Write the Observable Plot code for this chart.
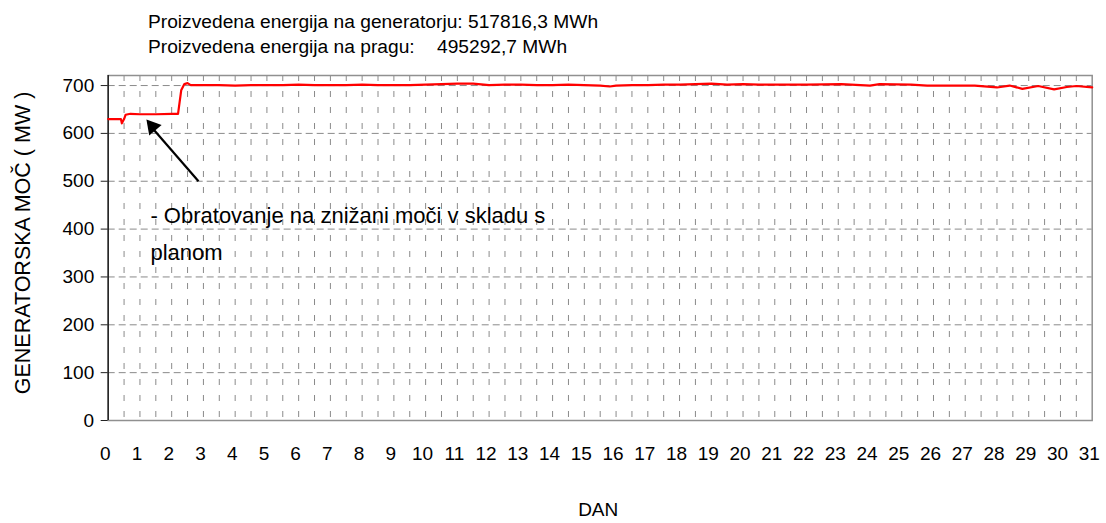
<!DOCTYPE html>
<html>
<head>
<meta charset="utf-8">
<script src="https://cdn.jsdelivr.net/npm/d3@7"></script>
<script src="https://cdn.jsdelivr.net/npm/@observablehq/plot@0.6"></script>
<style>
  html, body { margin: 0; padding: 0; background: #fff; }
  #wrap { position: relative; width: 1106px; height: 523px; font-family: "Liberation Sans", Arial, sans-serif; }
  #chart { position: absolute; left: 0; top: 0; }
  .hdr { position: absolute; font-size: 19.2px; line-height: 23px; white-space: pre; color: #000; }
</style>
</head>
<body>
<div id="wrap">
  <div id="chart"></div>
  <div class="hdr" id="h1" style="left:148px; top:9.5px;"></div>
  <div class="hdr" id="h2a" style="left:148px; top:35px;"></div>
  <div class="hdr" id="h2b" style="left:437px; top:35px;"></div>
</div>
<script>
// ---- data ----
const headerLabels = ["Proizvedena energija na generatorju: 517816,3 MWh", "Proizvedena energija na pragu:", "495292,7 MWh"];
const days  = [0, 0.4, 0.43, 0.5, 0.55, 0.7, 1.0, 1.5, 2.0, 2.2, 2.3, 2.4, 2.5, 2.6, 3, 3.5, 4, 4.5, 5, 5.5, 6, 6.5, 7, 7.5, 8, 8.5, 9, 9.5, 10, 10.5, 11, 11.5, 12, 12.5, 13, 13.5, 14, 14.5, 15, 15.5, 15.8, 16, 16.5, 17, 17.5, 18, 18.5, 19, 19.5, 20, 20.5, 21, 21.5, 22, 23.1, 24.0, 24.3, 25.3, 25.8, 26.8, 27.3, 28.0, 28.4, 28.8, 29.3, 29.8, 30.2, 30.5, 31];
const power = [630, 630, 621, 630, 639, 641, 640, 640, 641, 641, 690, 703, 705, 701, 701, 701, 700, 701, 701, 701, 702, 701, 701, 701, 702, 701, 701, 701, 702, 703, 704, 704, 701, 702, 702, 701, 701, 702, 701, 700, 698, 700, 701, 701, 702, 702, 703, 704, 702, 703, 702, 702, 702, 702, 703, 700, 703, 702, 700, 700, 700, 696, 700, 693, 699, 692, 697, 699, 696];
const xTickLabels = [0,1,2,3,4,5,6,7,8,9,10,11,12,13,14,15,16,17,18,19,20,21,22,23,24,25,26,27,28,29,30,31];
const yTickLabels = [0,100,200,300,400,500,600,700];
const yTitle = "GENERATORSKA MOČ ( MW )";
const xTitle = "DAN";
const noteLines = ["- Obratovanje na znižani moči v skladu s", "planom"];
const noteX = [1.33, 1.33];
const noteY = [428, 350];
const arrowFrom = [2.845, 500];
const arrowTo = [1.3, 618];
const arrowHead = [1.393, 614];

document.getElementById("h1").textContent = headerLabels[0];
document.getElementById("h2a").textContent = headerLabels[1];
document.getElementById("h2b").textContent = headerLabels[2];

const series = days.map((d, i) => ({day: d, mw: power[i]}));
const xGrid = d3.range(0.5, 31, 0.5);
const yGrid = yTickLabels.filter(v => v > 0);
const notes = noteLines.map((t, i) => ({x: noteX[i], y: noteY[i], t}));

const chart = Plot.plot({
  width: 1106,
  height: 523,
  marginLeft: 107.7,
  marginRight: 14.3,
  marginTop: 75,
  marginBottom: 103,
  style: {fontFamily: '"Liberation Sans", Arial, sans-serif', fontSize: "19px", color: "#000", background: "transparent"},
  x: {domain: [0, 31], axis: null},
  y: {domain: [0, 721], axis: null},
  marks: [
    Plot.ruleX(xGrid, {stroke: "#8a8a8a", strokeWidth: 1, strokeDasharray: "6,10"}),
    Plot.ruleY(yGrid, {stroke: "#8a8a8a", strokeWidth: 1, strokeDasharray: "7,4"}),
    Plot.frame({stroke: "#909090", strokeWidth: 1.5}),
    Plot.axisY(yTickLabels, {tickSize: 7, tickPadding: 7, stroke: "#222", fontSize: 19, label: null}),
    Plot.axisX(xTickLabels, {tickSize: 0, tickPadding: 25.5, fontSize: 19, dx: -3, label: null}),
    Plot.ruleX([0], {stroke: "#222", strokeWidth: 1.5}),
    Plot.text([yTitle], {frameAnchor: "left", textAnchor: "middle", rotate: -90, dx: -85, dy: -5, fontSize: 21.5}),
    Plot.text([xTitle], {frameAnchor: "bottom", dy: 95, dx: -2, fontSize: 19}),
    Plot.line(series, {x: "day", y: "mw", stroke: "#ff0000", strokeWidth: 2.2}),
    Plot.link([{x1: arrowFrom[0], y1: arrowFrom[1], x2: arrowTo[0], y2: arrowTo[1]}], {x1: "x1", y1: "y1", x2: "x2", y2: "y2", stroke: "#000", strokeWidth: 2.2}),
    Plot.dot([{x: arrowHead[0], y: arrowHead[1]}], {x: "x", y: "y", symbol: "triangle", r: 6, fill: "#000", stroke: "none", rotate: -40}),
    Plot.text(notes, {x: "x", y: "y", text: "t", textAnchor: "start", fontSize: 22})
  ]
});
document.getElementById("chart").appendChild(chart);
</script>
</body>
</html>
